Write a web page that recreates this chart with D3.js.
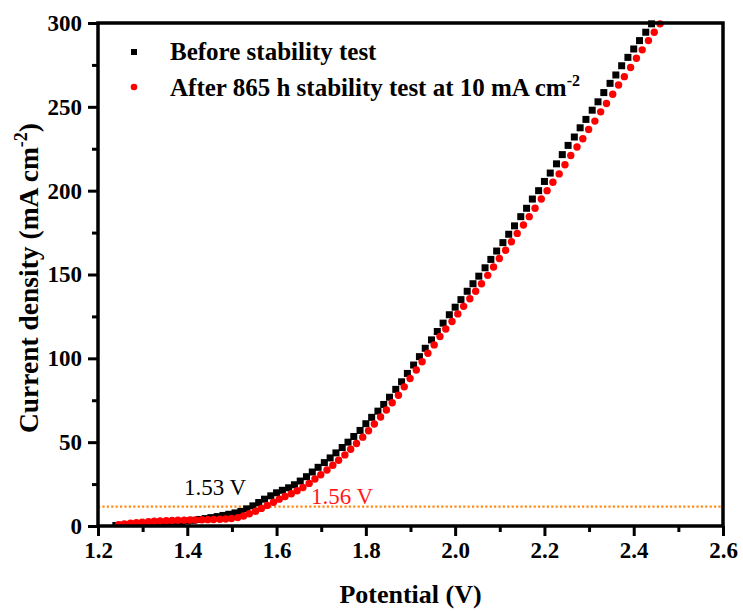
<!DOCTYPE html>
<html>
<head>
<meta charset="utf-8">
<script src="https://cdn.jsdelivr.net/npm/d3@7"></script>
<style>
  html, body { margin: 0; padding: 0; background: #fff; }
  svg { display: block; }
</style>
</head>
<body>
<div id="chart"></div>
<script>
const chartWidth = 743;
const chartHeight = 611;
const margin = { top: 23, right: 20, bottom: 85, left: 98 };

const xTicks = [1.2, 1.4, 1.6, 1.8, 2.0, 2.2, 2.4, 2.6];
const xMinorTicks = [1.3, 1.5, 1.7, 1.9, 2.1, 2.3, 2.5];
const yTicks = [0, 50, 100, 150, 200, 250, 300];
const yMinorTicks = [25, 75, 125, 175, 225, 275];

const referenceCurrent = 11.5;

const potentialBefore = [
  1.240, 1.253, 1.267, 1.280, 1.293, 1.307, 1.320, 1.333, 1.347, 1.360,
  1.373, 1.387, 1.400, 1.413, 1.427, 1.440, 1.453, 1.467, 1.480, 1.493,
  1.507, 1.520, 1.533, 1.547, 1.560, 1.573, 1.587, 1.600, 1.613, 1.627,
  1.640, 1.653, 1.667, 1.680, 1.693, 1.707, 1.720, 1.733, 1.747, 1.760,
  1.773, 1.787, 1.800, 1.813, 1.827, 1.840, 1.853, 1.867, 1.880, 1.893,
  1.907, 1.920, 1.933, 1.947, 1.960, 1.973, 1.987, 2.000, 2.013, 2.027,
  2.040, 2.053, 2.067, 2.080, 2.093, 2.107, 2.120, 2.133, 2.147, 2.160,
  2.173, 2.187, 2.200, 2.213, 2.227, 2.240, 2.253, 2.267, 2.280, 2.293,
  2.307, 2.320, 2.333, 2.347, 2.360, 2.373, 2.387, 2.400, 2.413, 2.427,
  2.440,
];
const currentBefore = [
  0.3, 0.5, 0.7, 0.9, 1.1, 1.3, 1.5, 1.7, 1.9, 2.1,
  2.4, 2.7, 3.0, 3.4, 3.9, 4.4, 5.0, 5.6, 6.3, 7.0,
  7.8, 8.7, 10.2, 12.0, 14.0, 16.0, 18.0, 19.8, 21.3, 22.8,
  24.6, 26.8, 29.4, 32.2, 35.0, 37.8, 40.6, 43.6, 46.8, 50.0,
  53.4, 57.0, 61.0, 64.8, 68.5, 72.5, 76.8, 81.5, 86.0, 91.0,
  96.0, 101.0, 106.0, 111.0, 116.0, 121.0, 126.0, 130.5, 135.0, 140.0,
  144.5, 149.0, 154.0, 159.0, 164.0, 169.0, 174.0, 179.0, 184.5, 189.5,
  195.0, 200.0, 205.5, 210.5, 216.0, 221.5, 227.0, 232.0, 237.5, 242.5,
  248.0, 253.0, 258.5, 264.0, 269.0, 274.5, 279.5, 284.5, 289.5, 294.5,
  299.5,
];

const potentialAfter = [
  1.246, 1.259, 1.273, 1.286, 1.299, 1.313, 1.326, 1.339, 1.353, 1.366,
  1.379, 1.393, 1.406, 1.419, 1.433, 1.446, 1.459, 1.473, 1.486, 1.499,
  1.513, 1.526, 1.539, 1.553, 1.566, 1.579, 1.593, 1.606, 1.619, 1.633,
  1.646, 1.659, 1.673, 1.686, 1.699, 1.713, 1.726, 1.739, 1.753, 1.766,
  1.779, 1.793, 1.806, 1.819, 1.833, 1.846, 1.859, 1.873, 1.886, 1.899,
  1.913, 1.926, 1.939, 1.953, 1.966, 1.979, 1.993, 2.006, 2.019, 2.033,
  2.046, 2.059, 2.073, 2.086, 2.099, 2.113, 2.126, 2.139, 2.153, 2.166,
  2.179, 2.193, 2.206, 2.219, 2.233, 2.246, 2.259, 2.273, 2.286, 2.299,
  2.313, 2.326, 2.339, 2.353, 2.366, 2.379, 2.393, 2.406, 2.419, 2.433,
  2.446, 2.459,
];
const currentAfter = [
  0.8, 1.2, 1.6, 2.0, 2.3, 2.6, 2.8, 3.0, 3.2, 3.3,
  3.4, 3.5, 3.6, 3.6, 3.7, 3.8, 3.9, 4.0, 4.2, 4.5,
  5.0, 6.0, 7.3, 8.8, 10.5, 12.3, 14.2, 16.0, 17.6, 19.2,
  21.0, 23.0, 25.4, 28.0, 30.6, 33.4, 36.2, 39.2, 42.4, 45.8,
  49.2, 53.0, 56.8, 60.8, 65.0, 69.2, 73.5, 78.0, 83.0, 88.0,
  93.0, 98.0, 103.0, 108.0, 113.0, 117.5, 122.0, 126.5, 131.0, 135.5,
  140.0, 144.5, 149.5, 154.5, 159.5, 164.5, 169.5, 174.5, 179.5, 184.5,
  189.5, 195.0, 200.0, 205.0, 210.0, 215.5, 221.0, 226.0, 231.0, 236.5,
  241.5, 247.0, 252.0, 257.5, 263.0, 268.0, 273.5, 279.0, 284.0, 289.5,
  294.5, 299.5,
];

const fontFamily = "'Times New Roman', 'Liberation Serif', serif";
const squareSize = 7;
const dotRadius = 3.7;

const svg = d3
  .select("#chart")
  .append("svg")
  .attr("width", chartWidth)
  .attr("height", chartHeight)
  .style("font-family", fontFamily);

const x = d3
  .scaleLinear()
  .domain([1.2, 2.6])
  .range([margin.left, chartWidth - margin.right]);

const y = d3
  .scaleLinear()
  .domain([0, 300])
  .range([chartHeight - margin.bottom, margin.top]);

svg
  .append("clipPath")
  .attr("id", "plot-clip")
  .append("rect")
  .attr("x", x.range()[0])
  .attr("y", y.range()[1] - 4)
  .attr("width", x.range()[1] - x.range()[0])
  .attr("height", y.range()[0] - y.range()[1] + 4);

// reference line for 10 mA cm-2
svg
  .append("line")
  .attr("x1", x(1.2))
  .attr("x2", x(2.6))
  .attr("y1", y(referenceCurrent))
  .attr("y2", y(referenceCurrent))
  .attr("stroke", "#ff8c1a")
  .attr("stroke-width", 2.2)
  .attr("stroke-dasharray", "2.2,2.2");

const plot = svg.append("g").attr("clip-path", "url(#plot-clip)");

const before = potentialBefore.map((p, i) => ({ p, j: currentBefore[i] }));
const after = potentialAfter.map((p, i) => ({ p, j: currentAfter[i] }));

plot
  .append("g")
  .selectAll("rect")
  .data(before)
  .join("rect")
  .attr("x", (d) => x(d.p) - squareSize / 2)
  .attr("y", (d) => y(d.j) - squareSize / 2)
  .attr("width", squareSize)
  .attr("height", squareSize)
  .attr("fill", "black");

plot
  .append("g")
  .selectAll("circle")
  .data(after)
  .join("circle")
  .attr("cx", (d) => x(d.p))
  .attr("cy", (d) => y(d.j))
  .attr("r", dotRadius)
  .attr("fill", "#ff0000");

// axes
const xAxis = svg
  .append("g")
  .attr("transform", `translate(0,${y(0)})`)
  .call(
    d3.axisBottom(x).tickValues(xTicks).tickFormat(d3.format(".1f")).tickSizeInner(10).tickSizeOuter(0).tickPadding(6),
  );

svg
  .append("g")
  .attr("transform", `translate(0,${y(0)})`)
  .call(d3.axisBottom(x).tickValues(xMinorTicks).tickFormat("").tickSizeInner(6).tickSizeOuter(0))
  .call((g) => g.select(".domain").remove());

const yAxis = svg
  .append("g")
  .attr("transform", `translate(${x(1.2)},0)`)
  .call(d3.axisLeft(y).tickValues(yTicks).tickSizeInner(10).tickSizeOuter(0).tickPadding(6));

svg
  .append("g")
  .attr("transform", `translate(${x(1.2)},0)`)
  .call(d3.axisLeft(y).tickValues(yMinorTicks).tickFormat("").tickSizeInner(6).tickSizeOuter(0))
  .call((g) => g.select(".domain").remove());

svg.selectAll(".tick line").attr("stroke", "black").attr("stroke-width", 3);

[xAxis, yAxis].forEach((g) => {
  g.select(".domain").remove();
  g.selectAll(".tick text")
    .attr("font-family", fontFamily)
    .attr("font-size", 23)
    .attr("font-weight", "bold")
    .attr("fill", "black");
});

svg
  .append("rect")
  .attr("x", x(1.2))
  .attr("y", y(300))
  .attr("width", x(2.6) - x(1.2))
  .attr("height", y(0) - y(300))
  .attr("fill", "none")
  .attr("stroke", "black")
  .attr("stroke-width", 3.5);

// axis titles
svg
  .append("text")
  .attr("x", (x(1.2) + x(2.6)) / 2)
  .attr("y", 603)
  .attr("text-anchor", "middle")
  .attr("font-size", 26)
  .attr("font-weight", "bold")
  .text("Potential (V)");

const yTitle = svg
  .append("text")
  .attr("transform", "translate(38,278) rotate(-90)")
  .attr("text-anchor", "middle")
  .attr("font-size", 27.5)
  .attr("font-weight", "bold");
yTitle.append("tspan").text("Current density (mA cm");
yTitle.append("tspan").attr("dy", -11).attr("font-size", 18).text("-2");
yTitle.append("tspan").attr("dy", 11).text(")");

// onset labels
svg
  .append("text")
  .attr("x", 184)
  .attr("y", 495)
  .attr("font-size", 23)
  .attr("fill", "black")
  .text("1.53 V");

svg
  .append("text")
  .attr("x", 311)
  .attr("y", 504)
  .attr("font-size", 23)
  .attr("fill", "#ff1a1a")
  .text("1.56 V");

// legend
const legend = svg.append("g");

legend
  .append("rect")
  .attr("x", 131)
  .attr("y", 49)
  .attr("width", 6)
  .attr("height", 6)
  .attr("fill", "black");

legend
  .append("text")
  .attr("x", 170)
  .attr("y", 60)
  .attr("font-size", 25)
  .attr("font-weight", "bold")
  .text("Before stability test");

legend
  .append("circle")
  .attr("cx", 134)
  .attr("cy", 87)
  .attr("r", 3.3)
  .attr("fill", "#ff0000");

const afterLabel = legend
  .append("text")
  .attr("x", 170)
  .attr("y", 96)
  .attr("font-size", 25)
  .attr("font-weight", "bold");
afterLabel.append("tspan").text("After 865 h stability test at 10 mA cm");
afterLabel.append("tspan").attr("dy", -10).attr("font-size", 16).text("-2");
</script>
</body>
</html>
